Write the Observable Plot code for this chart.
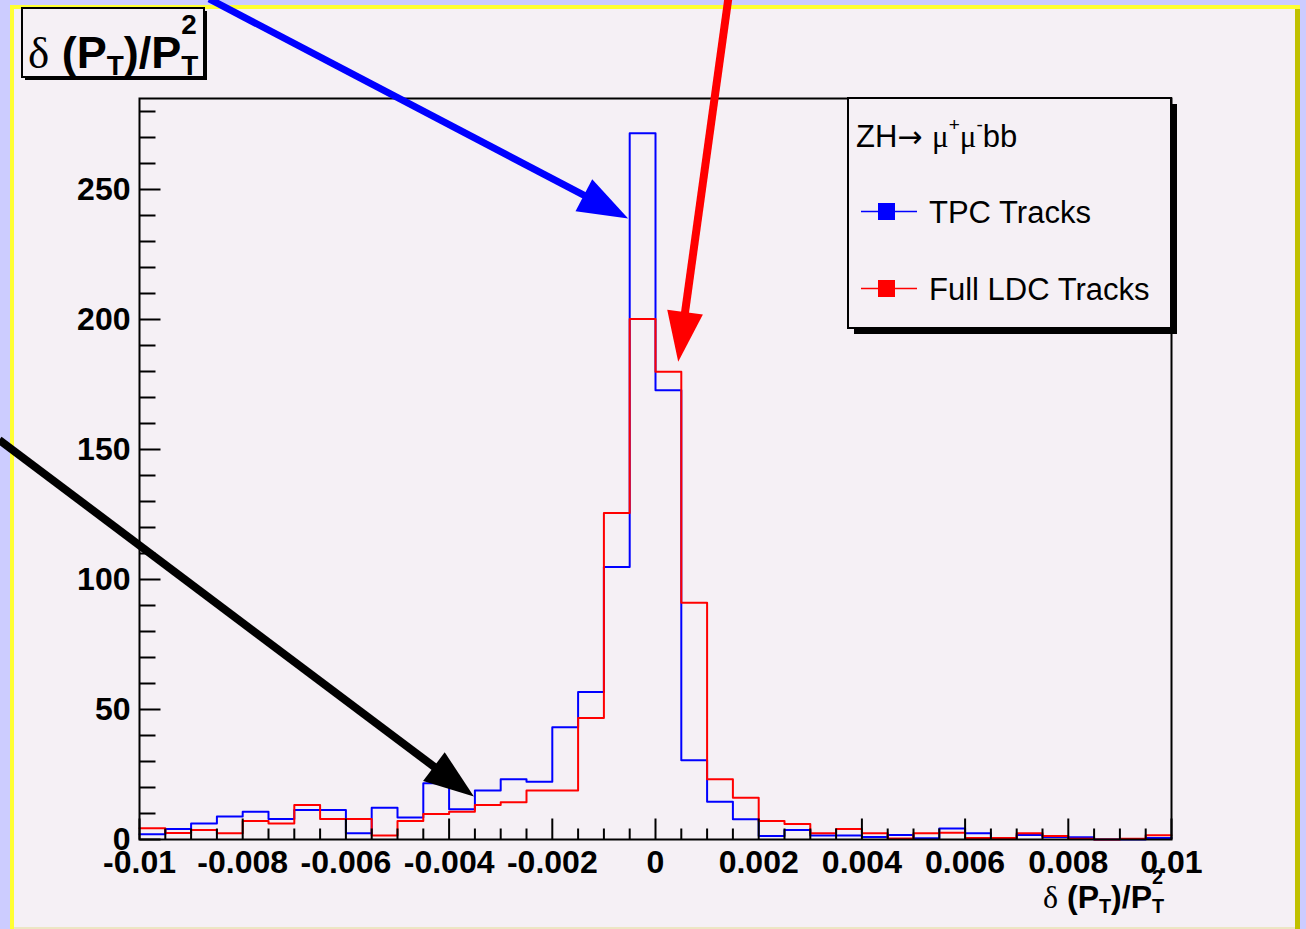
<!DOCTYPE html>
<html>
<head>
<meta charset="utf-8">
<script src="https://cdn.jsdelivr.net/npm/d3@7"></script>
<script src="https://cdn.jsdelivr.net/npm/@observablehq/plot@0.6"></script>
<style>
  html, body { margin: 0; padding: 0; }
  body { width: 1306px; height: 929px; overflow: hidden; position: relative; background: #ccccff; }
  #pad { position: absolute; left: 10px; top: 5px; width: 1290px; height: 924px; background: #ffff33; }
  #canvas { position: absolute; left: 14px; top: 9px; width: 1281px; height: 920px; background: #f5f0f5; }
  #rim { position: absolute; left: 1295px; top: 9px; width: 5px; height: 920px; background: #c0c000; }
  #foot { position: absolute; left: 14px; top: 927px; width: 1281px; height: 2px; background: #ece6c4; }
  #chart { position: absolute; left: 0; top: 0; }
  #chart svg { display: block; max-width: none; }
</style>
</head>
<body>
<div id="pad"></div>
<div id="canvas"></div>
<div id="rim"></div>
<div id="foot"></div>
<div id="chart"></div>
<script>
// Histogram of δ(PT)/PT² : 40 bins of width 0.0005 between -0.01 and 0.01
const binEdges = d3.range(41).map(i => +(-0.01 + i * 0.0005).toFixed(4));

// Entries per bin, TPC-only tracks
const tpcCounts = [
  2, 4, 6.2, 8.8, 10.7, 7.9, 11.3, 11.3, 2.4, 12.2,
  8.5, 21.6, 11.6, 18.8, 23.2, 22.2, 43.2, 56.7, 104.8, 271.6,
  172.8, 30.5, 14.5, 7.8, 1.3, 3.7, 1.5, 1.5, 1, 1.7,
  0.5, 4.2, 2.4, 0.5, 1.7, 1, 0.9, 0, 0, 0.6
];
// Entries per bin, full LDC tracks
const ldcCounts = [
  4.3, 2.5, 3.7, 2.4, 7.1, 6.2, 13.3, 7.9, 7.9, 1.5,
  7.1, 9.8, 10.7, 13.3, 14.3, 18.8, 18.8, 46.7, 125.6, 200.2,
  179.9, 91.1, 23.2, 16.1, 7.1, 6.0, 2.4, 4.0, 2.4, 0.4,
  2.4, 2.6, 0.6, 0.6, 2.4, 1.3, 0.3, 0, 0.3, 1.6
];

const seriesNames = ["TPC Tracks", "Full LDC Tracks"];
const seriesColors = ["#0000ff", "#ff0000"];
const processLabel = "ZH→ μ+μ-bb";

// Axis ticks
const xDomain = [-0.01, 0.01];
const yDomain = [0, 285];
const xMajorTicks = [-0.01, -0.008, -0.006, -0.004, -0.002, 0, 0.002, 0.004, 0.006, 0.008, 0.01];
const xTickLabels = ["-0.01", "-0.008", "-0.006", "-0.004", "-0.002", "0", "0.002", "0.004", "0.006", "0.008", "0.01"];
const xMinorTicks = binEdges.filter(v => !xMajorTicks.some(m => Math.abs(m - v) < 1e-9));
const yMajorTicks = [0, 50, 100, 150, 200, 250];
const yMinorTicks = [10, 20, 30, 40, 60, 70, 80, 90, 110, 120, 130, 140, 160, 170, 180, 190, 210, 220, 230, 240, 260, 270, 280];

// Annotation arrows (data coordinates: start → tip)
const arrowColors = ["#0000ff", "#ff0000", "#000000"];
const arrowStart = [[-0.00864, 323.1], [0.00142, 323.1], [-0.01271, 153.5]];
const arrowTip = [[-0.00052, 238.7], [0.00045, 183.6], [-0.00351, 16.3]];
const arrowWidths = [7, 8, 8];

const sans = "'Liberation Sans', Arial, Helvetica, sans-serif";
const serif = "'Liberation Serif', 'Times New Roman', serif";

// step outline rows: each edge carries the content of the bin to its right
const stepRows = counts => binEdges.map((e, i) => ({x: e, y: counts[Math.min(i, counts.length - 1)]}));

// tick glyphs drawn from the axis line inwards
const tickRight = len => ({draw(ctx) { ctx.moveTo(0, 0); ctx.lineTo(len, 0); }});
const tickUp = len => ({draw(ctx) { ctx.moveTo(0, 0); ctx.lineTo(0, -len); }});

const chart = Plot.plot({
  width: 1306,
  height: 929,
  marginLeft: 139,
  marginRight: 135,
  marginTop: 98,
  marginBottom: 90,
  style: {background: "transparent", fontFamily: sans, overflow: "visible"},
  x: {domain: xDomain, axis: null},
  y: {domain: yDomain, axis: null},
  marks: [
    Plot.line(stepRows(tpcCounts), {x: "x", y: "y", curve: "step-after", stroke: seriesColors[0], strokeWidth: 2}),
    Plot.line(stepRows(ldcCounts), {x: "x", y: "y", curve: "step-after", stroke: seriesColors[1], strokeWidth: 2}),
    Plot.dot(yMinorTicks, {x: () => xDomain[0], y: d => d, symbol: tickRight(16), fill: "none", stroke: "black", strokeWidth: 2}),
    Plot.dot(yMajorTicks, {x: () => xDomain[0], y: d => d, symbol: tickRight(21), fill: "none", stroke: "black", strokeWidth: 2}),
    Plot.dot(xMinorTicks, {x: d => d, y: () => yDomain[0], symbol: tickUp(11), fill: "none", stroke: "black", strokeWidth: 2}),
    Plot.dot(xMajorTicks, {x: d => d, y: () => yDomain[0], symbol: tickUp(21), fill: "none", stroke: "black", strokeWidth: 2}),
    Plot.frame({stroke: "black", strokeWidth: 2}),
    Plot.text(yMajorTicks, {x: () => xDomain[0], y: d => d, text: d => String(d), dx: -9, textAnchor: "end",
      fontSize: 32, fontWeight: "bold", fontFamily: sans, fill: "black"}),
    Plot.text(xMajorTicks, {x: d => d, y: () => yDomain[0], text: (d, i) => xTickLabels[i], dy: 23,
      fontSize: 32, fontWeight: "bold", fontFamily: sans, fill: "black"})
  ]
});
document.getElementById("chart").appendChild(chart);

const svg = d3.select(chart);
const canvasFill = "#f5f0f5";

// boxed title in the top-left corner, legend box at top right
const boxes = svg.append("g");
function shadowBox(x, y, w, h, off) {
  boxes.append("rect").attr("x", x + off).attr("y", y + off).attr("width", w).attr("height", h).attr("fill", "black");
  boxes.append("rect").attr("x", x).attr("y", y).attr("width", w).attr("height", h)
    .attr("fill", canvasFill).attr("stroke", "black").attr("stroke-width", 2);
}
shadowBox(22, 8, 182, 69, 3);
shadowBox(848, 98, 323, 230, 6);

const texts = svg.append("g").attr("text-anchor", "start");

// δ (P_T)/P_T^2 with stacked super/subscript
function ptLabel(parent, x, baseline, size) {
  const sub = size * 0.62;
  const t = parent.append("text").attr("x", x).attr("y", baseline).attr("font-size", size)
    .attr("font-family", sans).attr("font-weight", "bold").attr("fill", "black");
  t.append("tspan").attr("font-family", serif).attr("font-weight", "normal").text("δ");
  t.append("tspan").text(" (P");
  t.append("tspan").attr("font-size", sub).attr("dy", size * 0.15).text("T");
  t.append("tspan").attr("dy", -size * 0.15).text(")/P");
  const w = t.node().getComputedTextLength();
  parent.append("text").attr("x", x + w).attr("y", baseline - size * 0.75).attr("font-size", sub)
    .attr("font-family", sans).attr("font-weight", "bold").attr("fill", "black").text("2");
  parent.append("text").attr("x", x + w).attr("y", baseline + size * 0.15).attr("font-size", sub)
    .attr("font-family", sans).attr("font-weight", "bold").attr("fill", "black").text("T");
}
ptLabel(texts, 28, 68, 45);
ptLabel(texts, 1043, 908, 32);

// legend contents
const leg = texts.append("text").attr("x", 856).attr("y", 147).attr("font-size", 31)
  .attr("font-family", sans).attr("fill", "black");
const [zh, rest] = processLabel.split("→");
leg.append("tspan").text(zh);
leg.append("tspan").attr("font-family", "'DejaVu Sans', sans-serif").attr("font-size", 30).text("→ ");
leg.append("tspan").attr("font-family", serif).text("μ");
leg.append("tspan").attr("font-size", 19).attr("dy", -16).text("+");
leg.append("tspan").attr("font-family", serif).attr("dy", 16).text("μ");
leg.append("tspan").attr("font-size", 19).attr("dy", -16).text("-");
leg.append("tspan").attr("dy", 16).text("bb");

seriesNames.forEach((name, i) => {
  const cy = 211.5 + i * 77;
  texts.append("line").attr("x1", 861).attr("x2", 917).attr("y1", cy).attr("y2", cy)
    .attr("stroke", seriesColors[i]).attr("stroke-width", 1.5);
  texts.append("rect").attr("x", 878).attr("y", cy - 8.5).attr("width", 17).attr("height", 17)
    .attr("fill", seriesColors[i]);
  texts.append("text").attr("x", 929).attr("y", cy + 11).attr("font-size", 31)
    .attr("font-family", sans).attr("fill", "black").text(name);
});

// annotation arrows placed through the chart's own scales
const sx = chart.scale("x"), sy = chart.scale("y");
const arrows = svg.append("g");
const headLen = 50, headHalf = 18;
arrowStart.forEach((s, i) => {
  const x1 = sx.apply(s[0]), y1 = sy.apply(s[1]);
  const x2 = sx.apply(arrowTip[i][0]), y2 = sy.apply(arrowTip[i][1]);
  const len = Math.hypot(x2 - x1, y2 - y1), ux = (x2 - x1) / len, uy = (y2 - y1) / len;
  const bx = x2 - ux * headLen, by = y2 - uy * headLen;
  arrows.append("line").attr("x1", x1).attr("y1", y1).attr("x2", bx + ux * 2).attr("y2", by + uy * 2)
    .attr("stroke", arrowColors[i]).attr("stroke-width", arrowWidths[i]);
  arrows.append("path")
    .attr("d", `M${x2},${y2}L${bx - uy * headHalf},${by + ux * headHalf}L${bx + uy * headHalf},${by - ux * headHalf}Z`)
    .attr("fill", arrowColors[i]);
});
</script>
</body>
</html>
